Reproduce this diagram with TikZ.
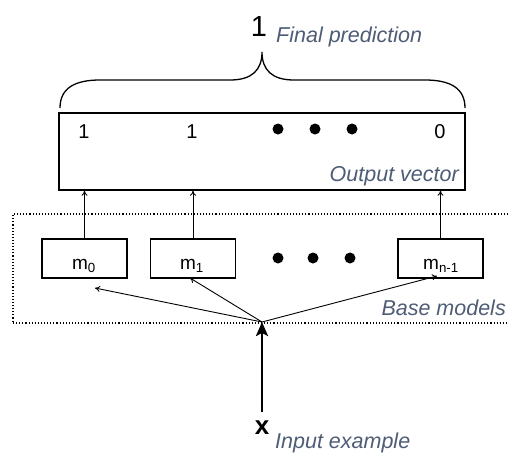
\documentclass[tikz,border=0pt]{standalone}
\usepackage{fontspec}
\setmainfont{Liberation Sans}
\usetikzlibrary{arrows.meta,calc}
\definecolor{notecol}{RGB}{78,92,118}
\begin{document}
\begin{tikzpicture}[x=1pt,y=-1pt,
  vecbox/.style={draw,line width=1.4pt,minimum width=406pt,minimum height=77pt,inner sep=0pt},
  modelbox/.style={draw,line width=1.4pt,minimum width=85pt,minimum height=39pt,inner sep=0pt},
  groupbox/.style={draw,line width=1.1pt,dotted,minimum width=520pt,minimum height=109pt,inner sep=0pt},
  note/.style={text=notecol,font=\itshape\fontsize{21.5}{24}\selectfont,inner sep=0pt},
  val/.style={font=\fontsize{20}{22}\selectfont,inner sep=0pt},
  mlab/.style={font=\fontsize{19}{21}\selectfont,inner sep=0pt},
  dotmark/.style={circle,fill=black,minimum size=11pt,inner sep=0pt},
  thin/.style={line width=0.9pt,-{To[length=5pt,width=6pt]}},
  feed/.style={line width=2.6pt,-{Stealth[length=14pt,width=12pt,inset=3pt]}}]
\useasboundingbox (0,0) rectangle (508,455);

% group of base models (dotted frame running past the right edge)
\node[groupbox] (grp) at (273,268.5) {};

% output vector
\node[vecbox] (vec) at (262,151.5) {};
\node[val] (v0) at (84,132) {1};
\node[val] (v1) at (192,132) {1};
\node[dotmark] (vd1) at (278,129) {};
\node[dotmark] (vd2) at (315,129) {};
\node[dotmark] (vd3) at (352,129) {};
\node[val] (vn) at (440,132) {0};
\node[note,anchor=east] (outlab) at (459,176) {Output vector};

% brace and final prediction
\draw[line width=1.3pt] (60,108) .. controls (60,88) and (75,80) .. (100,80) -- (230,80)
  .. controls (252,80) and (262,70) .. (262,52)
  .. controls (262,70) and (272,80) .. (294,80) -- (425,80)
  .. controls (450,80) and (465,88) .. (465,108);
\node[font=\fontsize{29}{31}\selectfont,inner sep=0pt] (final) at (259,27) {1};
\node[note,anchor=west] (finallab) at (276,37) {Final prediction};

% base models
\node[modelbox] (m0) at (84.5,258.5) {};
\node[modelbox] (m1) at (193,258.5) {};
\node[modelbox] (mn) at (440.5,258.5) {};
\node[mlab] (m0t) at (84,266) {m\textsubscript{0}};
\node[mlab] (m1t) at (192,266) {m\textsubscript{1}};
\node[mlab] (mnt) at (441,266) {m\textsubscript{n-1}};
\node[dotmark] (md1) at (278,258) {};
\node[dotmark] (md2) at (313,258) {};
\node[dotmark] (md3) at (350,258) {};
\node[note,anchor=east] (grplab) at (506,308) {Base models};

% model outputs into the vector
\draw[thin] (m0.north) -- (m0.north |- vec.south);
\draw[thin] (m1.north) -- (m1.north |- vec.south);
\draw[thin] (mn.north) -- (mn.north |- vec.south);

% input fan-out
\coordinate (src) at (262,322);
\coordinate (t0) at (95,288);
\coordinate (t1) at (190,278);
\coordinate (tn) at (437,276);
\draw[thin] (src) -- (t0);
\draw[thin] (src) -- (t1);
\draw[thin] (src) -- (tn);

% input example
\node[font=\bfseries\fontsize{26}{28}\selectfont,inner sep=0pt] (x) at (262,428) {x};
\draw[feed] (262,412) -- (src);
\node[note,anchor=west] (xlab) at (275,443) {Input example};
\end{tikzpicture}
\end{document}
